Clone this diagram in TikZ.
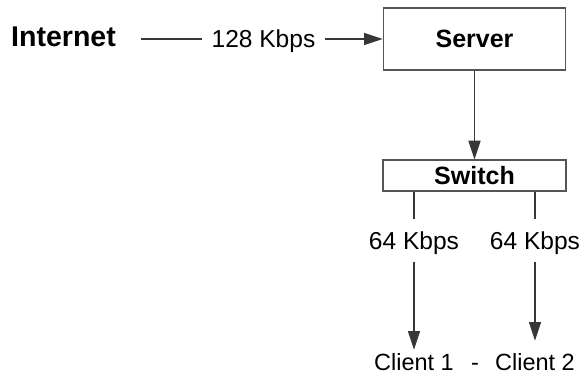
\documentclass[tikz,border=0pt]{standalone}
\usepackage{fontspec}
\setmainfont{Liberation Sans}
\usetikzlibrary{arrows.meta}

\begin{document}
\begin{tikzpicture}[x=0.75pt,y=-0.75pt]

	\definecolor{linegray}{RGB}{55,55,55}
	\definecolor{boxgray}{RGB}{85,85,85}

	\useasboundingbox (0,0) rectangle (587,383);

	\tikzstyle{edge} = [draw,line width=1pt,linegray]
	\tikzstyle{flow} = [edge,-{Triangle[length=14pt,width=9pt]}]

	\tikzset{box/.style = {shape=rectangle,draw=boxgray,line width=1.2pt,font=\bfseries\fontsize{18.75}{22}\selectfont}}
	\node[box,minimum width=136.5pt,minimum height=46.5pt] (server) at (474.5,39) {Server};
	\node[box,minimum width=137pt,minimum height=23pt] (switch) at (474.5,175.5) {Switch};

	\node[font=\bfseries\fontsize{21.4}{25}\selectfont,inner sep=0pt,text depth=0pt] (internet) at (63.5,37) {Internet};

	\tikzset{speed/.style = {font=\fontsize{18.4}{22}\selectfont,text depth=0pt,inner xsep=7pt,inner ysep=9pt}}
	\node[speed] (uplink) at (263.5,39) {128 Kbps};
	\node[speed] (down1) at (414,240.5) {64 Kbps};
	\node[speed] (down2) at (535,240.5) {64 Kbps};

	\tikzset{client/.style = {font=\fontsize{17.6}{21}\selectfont,anchor=base,inner xsep=0pt,inner ysep=2.2pt}}
	\node[client] (client1) at (414,370) {Client 1};
	\node[client] (client2) at (535,370) {Client 2};
	\node[client] (sep) at (475,370) {-};

	\draw[edge,shorten <=18.75pt] (internet.east |- uplink) -- (uplink);
	\draw[flow] (uplink) -- (server);
	\draw[flow] (server) -- (switch);
	\draw[edge] (switch.south -| down1) -- (down1);
	\draw[edge] (switch.south -| down2) -- (down2);
	\draw[flow] (down1) -- (client1);
	\draw[flow,shorten >=6.75pt] (down2) -- (client2);
\end{tikzpicture}
\end{document}
